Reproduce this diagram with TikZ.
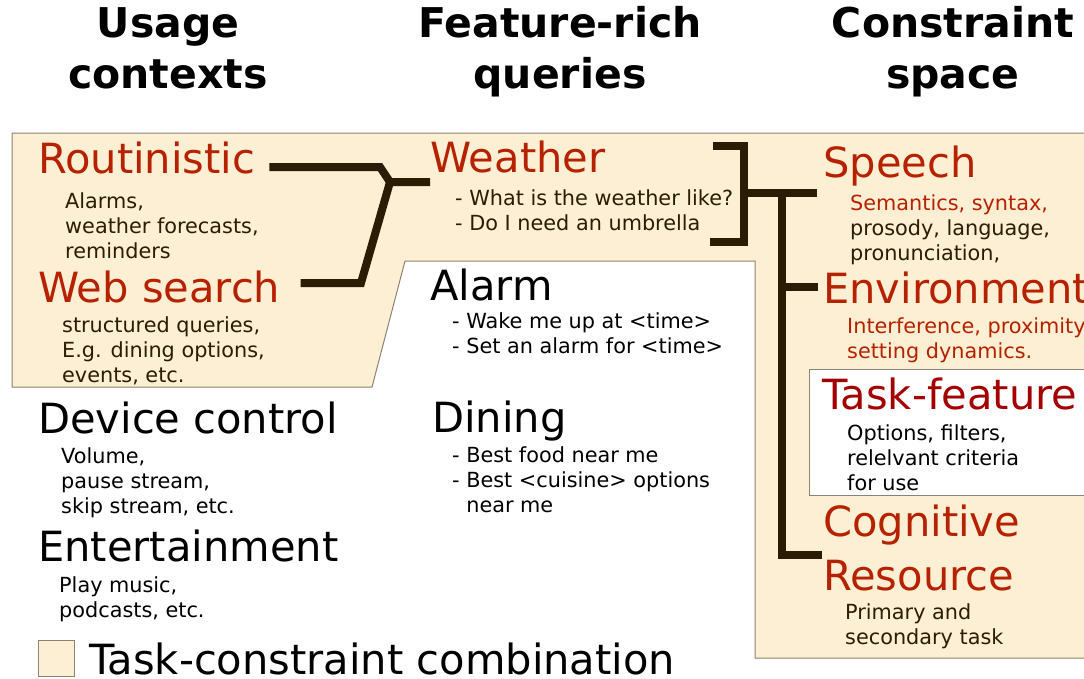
\documentclass[tikz,border=0pt]{standalone}
\usepackage{fontspec}
\setmainfont{DejaVu Sans}
\usepackage{tikz}
\usetikzlibrary{positioning}
\definecolor{cream}{RGB}{253,239,211}
\definecolor{edge}{RGB}{140,130,115}
\definecolor{rust}{RGB}{182,34,0}
\definecolor{crimson}{RGB}{165,0,0}
\definecolor{umber}{RGB}{43,29,5}
\tikzstyle{title} = [font=\fontsize{41}{51}\selectfont\bfseries, align=center, anchor=base, inner sep=0pt]
\tikzstyle{heading} = [font=\fontsize{41.6}{54}\selectfont, align=left, anchor=base west, inner sep=0pt]
\tikzstyle{detail} = [font=\fontsize{20.8}{25}\selectfont, align=left, anchor=base west, inner sep=0pt]
\tikzstyle{link} = [line width=8pt, draw=umber]
\tikzstyle{panel} = [draw=edge, line width=1pt]

\begin{document}
\begin{tikzpicture}[x=1pt, y=-1pt]
    \useasboundingbox (0,0) rectangle (1084,678);

    % Task-constraint areas
    \filldraw[panel, fill=cream] (12,133) -- (1090,133) -- (1090,658) -- (755,658)
        -- (755,261) -- (405,261) -- (372,387) -- (12,387) -- cycle;
    \filldraw[panel, fill=white] (809,369) rectangle (1090,495);

    % Column titles (placed by the baseline of their last line)
    \node[title] (usage) at (168,88) {Usage\\contexts};
    \node[title] (queries) at (560,88) {Feature-rich\\queries};
    \node[title] (space) at (953,88) {Constraint\\space};

    % Usage contexts
    \node[heading, rust] (rout) at (38,173) {Routinistic};
    \node[detail, umber] (routtxt) at (65,258) {Alarms,\\weather forecasts,\\reminders};
    \node[heading, rust] (web) at (38,302) {Web search};
    \node[detail, umber] (webtxt) at (62,382) {structured queries,\\E.g. dining options,\\events, etc.};
    \node[heading] (dev) at (38,433) {Device control};
    \node[detail] (devtxt) at (61,513) {Volume,\\pause stream,\\skip stream, etc.};
    \node[heading] (ent) at (38,561) {Entertainment};
    \node[detail] (enttxt) at (59,617) {Play music,\\podcasts, etc.};

    % Feature-rich queries
    \node[heading, rust] (wx) at (430,172) {Weather};
    \node[detail, umber] (wxtxt) at (455,230) {- What is the weather like?\\- Do I need an umbrella};
    \node[heading] (alarm) at (430,300) {Alarm};
    \node[detail] (alarmtxt) at (452,353) {- Wake me up at <time>\\- Set an alarm for <time>};
    \node[heading] (dine) at (432,432) {Dining};
    \node[detail] (dinetxt) at (452,512) {- Best food near me\\- Best <cuisine> options\\\hphantom{-\ }near me};

    % Constraint space
    \node[heading, rust] (speech) at (823,177) {Speech};
    \node[detail, umber] (speechtxt) at (850,260) {\textcolor{rust}{Semantics, syntax,}\\prosody, language,\\pronunciation,};
    \node[heading, rust] (env) at (823,303) {Environment};
    \node[detail, rust] (envtxt) at (847,358) {Interference, proximity\\setting dynamics.};
    \node[heading, crimson] (task) at (822,409) {Task-feature};
    \node[detail] (tasktxt) at (847,490) {Options, filters,\\relelvant criteria\\for use};
    \node[heading, rust] (cog) at (823,590) {Cognitive\\Resource};
    \node[detail, umber] (cogtxt) at (845,644) {Primary and\\secondary task};

    % Legend
    \node[panel, fill=cream, minimum size=36pt, inner sep=0pt, anchor=north west] (key) at (38,640) {};
    \node[heading, anchor=west, right=14pt of key] (keytxt) {Task-constraint combination};

    % Bends and joins
    \coordinate (ubend) at (380,167);
    \coordinate (wbend) at (361,283);
    \coordinate (ujoin) at (390,182);
    \coordinate (qtop) at (744,146);
    \coordinate (qbot) at (744,242);
    \coordinate (qjoin) at (744,193);
    \coordinate (trunk) at (782,193);
    \coordinate (tbase) at (782,555);

    % Contexts to queries
    \draw[link] ([xshift=14pt]rout.east |- ubend) -- (ubend) -- (ujoin) -- (wx.west |- ujoin);
    \draw[link] ([xshift=20pt]web.east |- wbend) -- (wbend) -- (ujoin);

    % Queries to constraints
    \draw[link] ([xshift=-31pt]qtop) -- (qtop) -- (qbot) -- ([xshift=-34pt]qbot);
    \draw[link] (qjoin) -- ([xshift=-6pt]speech.west |- qjoin);
    \draw[link] (trunk) -- (tbase) -- ([xshift=-1pt]cog.west |- tbase);
    \draw[link] (trunk |- env.west) -- ([xshift=-5pt]env.west);
\end{tikzpicture}
\end{document}
